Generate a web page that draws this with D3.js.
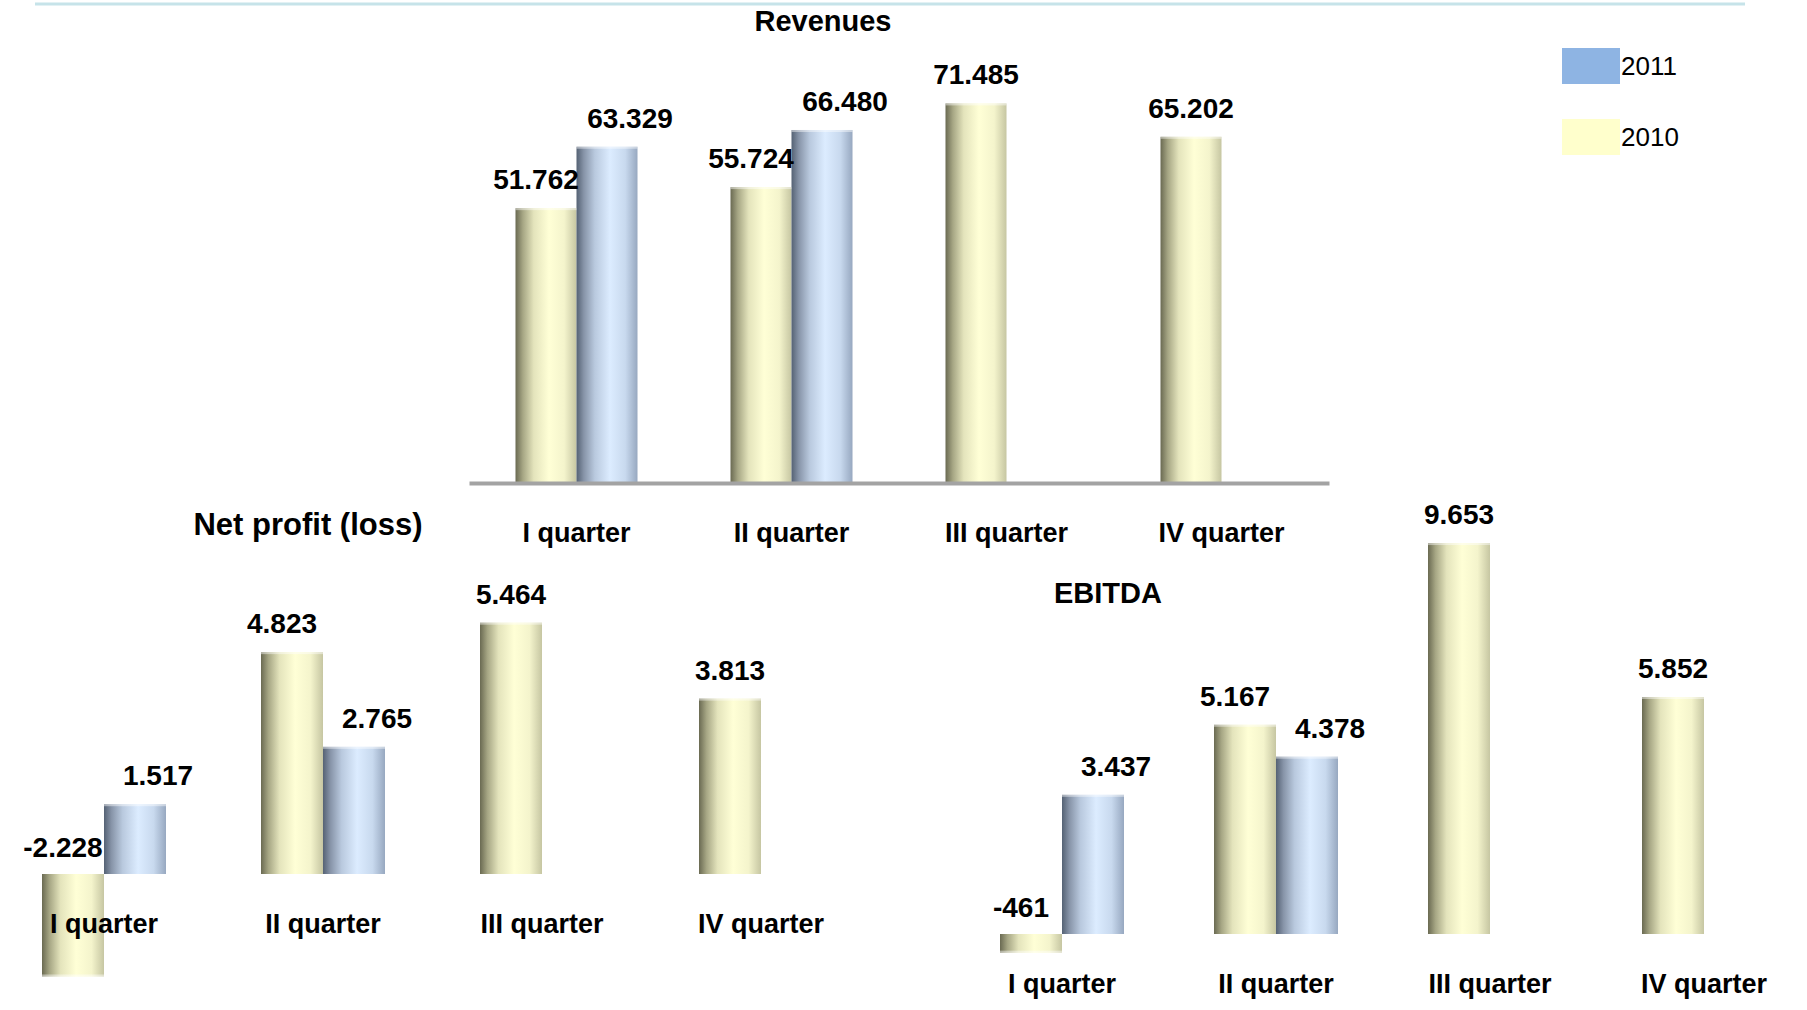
<!DOCTYPE html>
<html>
<head>
<meta charset="utf-8">
<script src="https://cdn.jsdelivr.net/npm/d3@7"></script>
<style>
  html, body { margin: 0; padding: 0; background: #ffffff; }
  svg { display: block; }
  text { font-family: "Liberation Sans", Arial, sans-serif; fill: #000; }
</style>
</head>
<body>
<svg id="chart" width="1807" height="1010"></svg>
<script>
// ---------------- DATA (values in thousands-formatted units) ----------------
const quarters = ["I quarter", "II quarter", "III quarter", "IV quarter"];
const years = ["2010", "2011"];
const legendYears = ["2011", "2010"];

const revenues2010 = [51762, 55724, 71485, 65202];
const revenues2011 = [63329, 66480, null, null];

const netProfit2010 = [-2228, 4823, 5464, 3813];
const netProfit2011 = [1517, 2765, null, null];

const ebitda2010 = [-461, 5167, 9653, 5852];
const ebitda2011 = [3437, 4378, null, null];

const titles = ["Revenues", "Net  profit (loss)", "EBITDA"];

// ---------------- RENDER ----------------
const svg = d3.select("#chart");
const fmt = d3.formatLocale({ decimal: ",", thousands: ".", grouping: [3], currency: ["", ""], minus: "-" }).format(",d");

const defs = svg.append("defs");
function grad(id, stops) {
  const g = defs.append("linearGradient").attr("id", id)
    .attr("x1", "0%").attr("x2", "100%").attr("y1", "0%").attr("y2", "0%");
  stops.forEach(s => g.append("stop").attr("offset", s[0]).attr("stop-color", s[1]));
}
grad("g2010", [["0%", "#6a6a52"], ["12%", "#a6a684"], ["30%", "#e4e4bc"], ["55%", "#ffffd6"], ["80%", "#f4f4cc"], ["100%", "#c6c6a2"]]);
grad("g2011", [["0%", "#556274"], ["12%", "#8794a8"], ["30%", "#b9c9de"], ["55%", "#dcecff"], ["80%", "#c8d9ee"], ["100%", "#97a8c0"]]);

const fills = { "2010": "url(#g2010)", "2011": "url(#g2011)" };
const legendColors = { "2011": "#8eb4e3", "2010": "#ffffcc" };

// top decorative rule
svg.append("line").attr("x1", 35).attr("x2", 1745).attr("y1", 4).attr("y2", 4)
  .attr("stroke", "#c6e3e9").attr("stroke-width", 3);

const panels = [
  { title: titles[0], v2010: revenues2010, v2011: revenues2011,
    xRange: [469, 1329], yDomain: [0, 80000], yRange: [483, 483 - 424.8],
    showAxis: true, titleX: 823, titleY: 31, titleSize: 29, barW: 61 },
  { title: titles[1], v2010: netProfit2010, v2011: netProfit2011,
    xRange: [-5.5, 870.5], yDomain: [-3000, 6000], yRange: [874 + 138, 874 - 276],
    showAxis: false, titleX: 308, titleY: 535, titleSize: 31, barW: 62 },
  { title: titles[2], v2010: ebitda2010, v2011: ebitda2011,
    xRange: [955, 1811], yDomain: [-1000, 10000], yRange: [934 + 40.5, 934 - 405],
    showAxis: false, titleX: 1108, titleY: 603, titleSize: 29, barW: 62 }
];

panels.forEach(p => {
  const g = svg.append("g");
  const x = d3.scaleBand().domain(quarters).range(p.xRange).paddingInner(0).paddingOuter(0);
  const y = d3.scaleLinear().domain(p.yDomain).range(p.yRange);
  const x1 = d3.scaleBand().domain(years).range([0, p.barW * 2]).padding(0);
  const off = (x.bandwidth() - p.barW * 2) / 2;
  const zero = y(0);

  const rows = [];
  quarters.forEach((q, i) => {
    const paired = p.v2011[i] != null;
    years.forEach(yr => {
      const v = yr === "2010" ? p.v2010[i] : p.v2011[i];
      if (v == null) return;
      rows.push({ q, yr, v, paired });
    });
  });

  // bars
  g.selectAll("rect.bar").data(rows).enter().append("rect")
    .attr("class", "bar")
    .attr("x", d => x(d.q) + off + x1(d.yr))
    .attr("width", x1.bandwidth())
    .attr("y", d => Math.min(y(d.v), zero))
    .attr("height", d => Math.abs(y(d.v) - zero))
    .attr("fill", d => fills[d.yr]);

  // subtle top highlight
  g.selectAll("rect.cap").data(rows).enter().append("rect")
    .attr("class", "cap")
    .attr("x", d => x(d.q) + off + x1(d.yr))
    .attr("width", x1.bandwidth())
    .attr("y", d => (d.v >= 0 ? y(d.v) : y(d.v) - 2))
    .attr("height", 2)
    .attr("fill", "#ffffff").attr("opacity", 0.45);

  // axis
  const axis = d3.axisBottom(x).tickSize(0).tickSizeOuter(0).tickPadding(40);
  const ag = g.append("g").attr("transform", `translate(0,${zero})`).call(axis);
  ag.selectAll("text").attr("font-family", "Liberation Sans, Arial, sans-serif")
    .attr("font-size", 27).attr("font-weight", "bold").attr("fill", "#000");
  if (p.showAxis) {
    ag.select(".domain").attr("stroke", "#a3a3a3").attr("stroke-width", 4);
  } else {
    ag.select(".domain").remove();
  }
  ag.raise();

  // value labels
  g.selectAll("text.val").data(rows).enter().append("text")
    .attr("class", "val")
    .attr("x", d => x(d.q) + off + x1(d.yr) + x1.bandwidth() / 2 + (d.paired ? (d.yr === "2010" ? -10 : 23) : 0))
    .attr("y", d => d.v >= 0 ? y(d.v) - 19 : zero - 17)
    .attr("text-anchor", "middle")
    .attr("font-size", 28).attr("font-weight", "bold")
    .text(d => fmt(d.v));

  // title
  svg.append("text").attr("x", p.titleX).attr("y", p.titleY)
    .attr("text-anchor", "middle").attr("font-size", p.titleSize).attr("font-weight", "bold")
    .text(p.title);
});

// legend
const lg = svg.append("g");
legendYears.forEach((yr, i) => {
  const yy = 48 + i * 71;
  lg.append("rect").attr("x", 1562).attr("y", yy).attr("width", 58).attr("height", 36)
    .attr("fill", legendColors[yr]);
  lg.append("text").attr("x", 1621).attr("y", yy + 27).attr("font-size", 26).text(yr);
});
</script>
</body>
</html>
